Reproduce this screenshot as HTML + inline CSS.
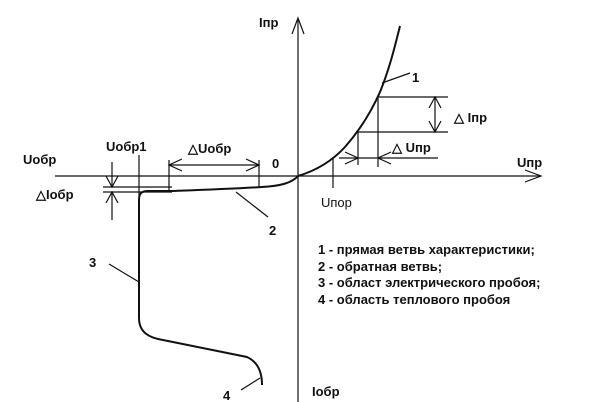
<!DOCTYPE html>
<html><head><meta charset="utf-8"><style>
body{margin:0;background:#fff;}
svg{display:block;}
text{font-family:"Liberation Sans",sans-serif;font-weight:bold;fill:#111;}
</style></head><body>
<svg width="605" height="402" viewBox="0 0 605 402" xmlns="http://www.w3.org/2000/svg">
<g stroke="#111" stroke-width="1.2" fill="none">
<!-- axes -->
<line x1="298" y1="20" x2="298" y2="402"/>
<polyline points="292,34 298,18 304,34"/>
<line x1="55" y1="176" x2="540" y2="176"/>
<polyline points="525,170 541,176 525,182"/>
<!-- forward curve -->
<path d="M298,176 C318,170 333,160 345,147 C360,130 372,110 380,92 C389,70 394,50 400,26" stroke-width="2"/>
<!-- reverse curve -->
<path d="M298,176 C292,183 280,186 262,187 C230,189 200,190 172,191 L148,191 C141,191 139,194 139,200 L139,318 C139,333 150,338 163,340 L247,357 C258,362 262,372 262,385" stroke-width="2"/>
<!-- label 1 -->
<line x1="382" y1="83" x2="410" y2="73"/>
<!-- ΔIпр -->
<line x1="378" y1="97" x2="448" y2="97"/>
<line x1="358" y1="132" x2="448" y2="132"/>
<line x1="435" y1="97" x2="435" y2="132"/>
<polyline points="429,108 435,97 441,108"/>
<polyline points="429,121 435,132 441,121"/>
<!-- ΔUпр -->
<line x1="358" y1="132" x2="358" y2="165"/>
<line x1="378" y1="97" x2="378" y2="167"/>
<line x1="339" y1="158" x2="438" y2="158"/>
<polyline points="345,152 358,158 345,164"/>
<polyline points="391,152 378,158 391,164"/>
<!-- Uпор -->
<line x1="333" y1="157" x2="333" y2="188"/>
<!-- ΔUобр -->
<line x1="169" y1="160" x2="169" y2="191"/>
<line x1="259" y1="160" x2="259" y2="187"/>
<line x1="169" y1="165" x2="259" y2="165"/>
<polyline points="182,159 169,165 182,171"/>
<polyline points="246,159 259,165 246,171"/>
<!-- Uобр1 -->
<line x1="139" y1="155" x2="139" y2="200"/>
<!-- ΔIобр -->
<line x1="103" y1="187" x2="172" y2="187"/>
<line x1="103" y1="192" x2="172" y2="192"/>
<line x1="112" y1="162" x2="112" y2="187"/>
<polyline points="106,176 112,187 118,176"/>
<line x1="112" y1="192" x2="112" y2="220"/>
<polyline points="106,203 112,192 118,203"/>
<!-- label 2,3,4 -->
<line x1="236" y1="192" x2="268" y2="217"/>
<line x1="109" y1="264" x2="139" y2="282"/>
<line x1="241" y1="390" x2="260" y2="378"/>
</g>
<g font-size="13">
<text x="259" y="27">Iпр</text>
<text x="517" y="167">Uпр</text>
<text x="23" y="164">Uобр</text>
<text x="272" y="168">0</text>
<text x="412" y="82">1</text>
<text x="454" y="122">△ Iпр</text>
<text x="392" y="152">△ Uпр</text>
<text x="106" y="151">Uобр1</text>
<text x="188" y="153">△Uобр</text>
<text x="36" y="199">△Iобр</text>
<text x="269" y="235">2</text>
<text x="89" y="267">3</text>
<text x="223" y="400">4</text>
<text x="312" y="396">Iобр</text>
</g>
<text x="321" y="207" font-size="13" style="font-weight:normal">Uпор</text>
<g font-size="13">
<text x="318" y="254">1 - прямая ветвь характеристики;</text>
<text x="318" y="271">2 - обратная ветвь;</text>
<text x="318" y="287">3 - област электрического пробоя;</text>
<text x="318" y="304">4 - область теплового пробоя</text>
</g>
</svg>
</body></html>
